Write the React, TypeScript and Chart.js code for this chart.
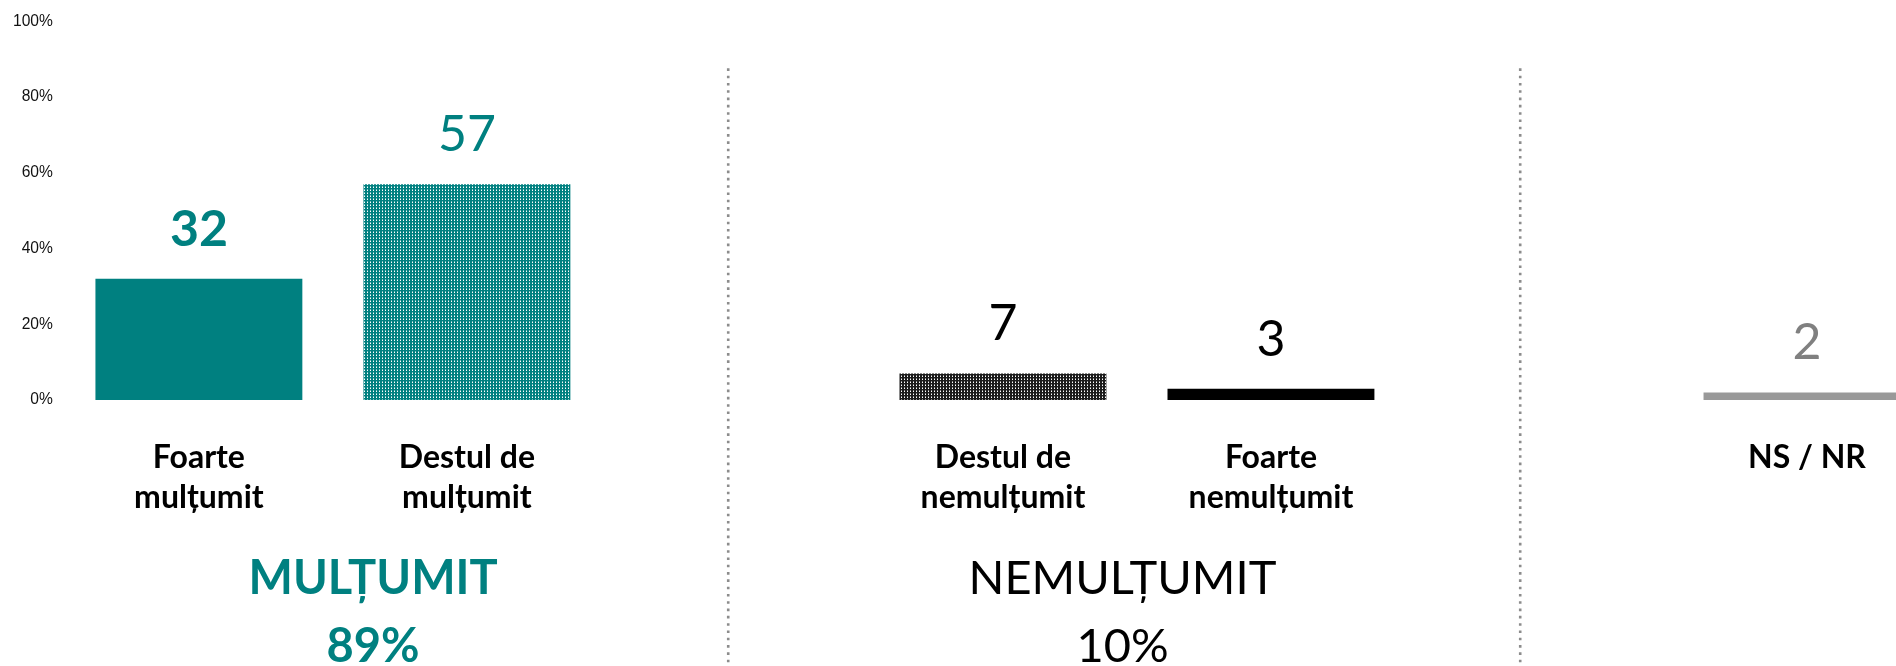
import { useEffect, useRef } from "react";
import { Chart, registerables } from "chart.js";

Chart.register(...registerables);

// ---- data ----
const categories: (string | string[])[] = [
  ["Foarte", "mulțumit"],
  ["Destul de", "mulțumit"],
  "",
  ["Destul de", "nemulțumit"],
  ["Foarte", "nemulțumit"],
  "",
  "NS / NR",
];
const values: (number | null)[] = [32, 57, null, 7, 3, null, 2];
const yTickValues = [0, 20, 40, 60, 80, 100];
const groupTitles = ["MULȚUMIT", "NEMULȚUMIT"];
const groupTotals = ["89%", "10%"];

const TEAL = "#008080";

function makePattern(bg: string, dot: string): CanvasPattern | string {
  const c = document.createElement("canvas");
  c.width = 3;
  c.height = 3;
  const x = c.getContext("2d");
  if (!x) return bg;
  x.fillStyle = bg;
  x.fillRect(0, 0, 3, 3);
  x.fillStyle = dot;
  x.fillRect(1, 1, 1, 1);
  x.globalAlpha = 0.5;
  x.fillRect(1, 0, 1, 1);
  x.globalAlpha = 1;
  const p = x.createPattern(c, "repeat");
  return p || bg;
}

export default function App() {
  const ref = useRef<HTMLCanvasElement>(null);

  useEffect(() => {
    document.body.style.overflow = "hidden";
    const canvas = ref.current;
    if (!canvas) return;

    const tealPattern = makePattern(TEAL, "#ffffff");
    const blackPattern = makePattern("#1c1c1c", "#ffffff");
    const barColors = [TEAL, tealPattern, "transparent", blackPattern, "#000000", "transparent", "#999999"];
    const labelColors = [TEAL, TEAL, "#000", "#000", "#000", "#000", "#808080"];
    const labelWeights = ["bold", "normal", "normal", "normal", "normal", "normal", "normal"];

    const overlay = {
      id: "overlay",
      afterDatasetsDraw(chart: any) {
        const ctx = chart.ctx;
        const meta = chart.getDatasetMeta(0);
        ctx.save();
        ctx.textAlign = "center";
        ctx.textBaseline = "alphabetic";
        meta.data.forEach((el: any, i: number) => {
          const v = values[i];
          if (v === null || v === undefined) return;
          ctx.font = `${labelWeights[i]} 50px Lato`;
          ctx.fillStyle = labelColors[i];
          ctx.fillText(String(v), el.x, el.y - 33);
        });
        ctx.restore();
      },
      afterDraw(chart: any) {
        const ctx = chart.ctx;
        const xs = chart.scales.x;
        const area = chart.chartArea;
        ctx.save();
        // dotted dividers
        ctx.strokeStyle = "#8c8c8c";
        ctx.lineWidth = 2.6;
        ctx.setLineDash([2.6, 4.7]);
        [1.975, 4.93].forEach((a) => {
          const x = xs.getPixelForValue(a);
          ctx.beginPath();
          ctx.moveTo(x, area.top + 47);
          ctx.lineTo(x, chart.height);
          ctx.stroke();
        });
        ctx.setLineDash([]);
        // group labels
        const anchors = [0.65, 3.446];
        ctx.textAlign = "center";
        ctx.textBaseline = "alphabetic";
        anchors.forEach((a, i) => {
          const x = xs.getPixelForValue(a);
          const bold = i === 0;
          ctx.fillStyle = bold ? TEAL : "#000";
          ctx.font = `${bold ? "bold" : "normal"} 47px Lato`;
          ctx.fillText(groupTitles[i], x, area.bottom + 194);
          ctx.fillText(groupTotals[i], x, area.bottom + 262);
        });
        ctx.restore();
      },
    };

    const chart = new Chart(canvas, {
      type: "bar",
      data: {
        labels: categories,
        datasets: [
          {
            data: values,
            backgroundColor: barColors as any,
            borderWidth: 0,
            barPercentage: 0.772,
            categoryPercentage: 1,
          },
        ],
      },
      options: {
        animation: false,
        responsive: false,
        layout: { padding: { left: 1, top: 21, right: 0, bottom: 110 } },
        plugins: { legend: { display: false }, tooltip: { enabled: false } },
        scales: {
          x: {
            grid: { display: false, drawTicks: false },
            border: { display: false },
            ticks: {
              color: "#000",
              font: { family: "Lato", size: 32, weight: "bold", lineHeight: "40px" as any },
              padding: 38,
              maxRotation: 0,
              autoSkip: false,
            },
          },
          y: {
            min: 0,
            max: 100,
            grid: { display: false, drawTicks: false },
            border: { display: false },
            afterBuildTicks: (s: any) => {
              s.ticks = yTickValues.map((v) => ({ value: v }));
            },
            ticks: {
              color: "#111",
              font: { family: "Liberation Sans", size: 15.6 },
              padding: 12,
              callback: (v: any) => `${v}%`,
            },
          },
        },
      },
      plugins: [overlay],
    });
    return () => chart.destroy();
  }, []);

  return (
    <div style={{ position: "fixed", left: 0, top: 0, width: 1941, height: 666, background: "#fff" }}>
      <canvas ref={ref} width={1941} height={666} style={{ display: "block" }} />
    </div>
  );
}
